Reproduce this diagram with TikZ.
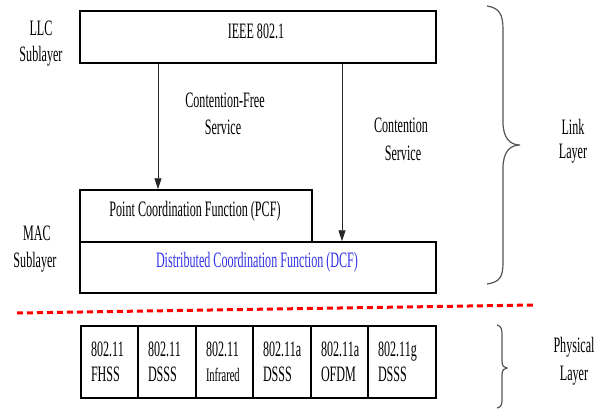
\documentclass[tikz,border=0pt]{standalone}
\usepackage{fontspec}
\setmainfont{Liberation Serif}[FakeStretch=0.55]
\usetikzlibrary{arrows.meta}
\definecolor{dcfblue}{RGB}{50,50,230}
\definecolor{bracegray}{RGB}{85,85,85}
\begin{document}
\begin{tikzpicture}[x=1pt,y=-1pt,
  every node/.style={font=\fontsize{22}{25}\selectfont},
  box/.style={draw=black,line width=1.5pt,rectangle,inner sep=0pt},
  txt/.style={inner sep=0pt,align=center},
  cell/.style={draw=black,line width=1.3pt,rectangle,minimum height=72pt,
    inner xsep=10pt,align=left},
  arr/.style={draw=black!85,line width=0.8pt,-{Triangle[width=7pt,length=11pt]}},
  bracepath/.style={draw=bracegray,line width=1.2pt},
  sep/.style={draw=red,line width=3pt,dash pattern=on 6pt off 4pt}]
\useasboundingbox (0,0) rectangle (599,410);

% MAC / LLC layer boxes
\node[box,minimum width=356pt,minimum height=52pt] (ieee) at (258,37) {};
\node[txt] (ieeet) at (256,31) {IEEE 802.1};
\node[box,minimum width=232pt,minimum height=52pt] (pcf) at (196,216) {};
\node[txt] (pcft) at (195,211) {Point Coordination Function (PCF)};
\node[box,minimum width=356pt,minimum height=51pt] (dcf) at (258,267.5) {};
\node[txt,text=dcfblue] (dcft) at (257,262) {Distributed Coordination Function (DCF)};

% side labels
\node[txt] (llc) at (41,28) {LLC};
\node[txt] (llcs) at (41,56) {Sublayer};
\node[txt] (mac) at (37,233) {MAC};
\node[txt] (macs) at (35,262) {Sublayer};
\node[txt] (cf1) at (225,100) {Contention-Free};
\node[txt] (cf2) at (223,127) {Service};
\node[txt] (cs1) at (401,125) {Contention};
\node[txt] (cs2) at (403,153) {Service};
\node[txt] (ll1) at (573,127) {Link};
\node[txt] (ll2) at (573,154) {Layer};
\node[txt] (pl1) at (574,347) {Physical};
\node[txt] (pl2) at (574,376) {Layer};

% service arrows
\coordinate (ax1) at (158,0);
\coordinate (ax2) at (342,0);
\draw[arr] (ieee.south -| ax1) -- (pcf.north -| ax1);
\draw[arr] (ieee.south -| ax2) -- (dcf.north -| ax2);

% braces
\draw[bracepath] (487,6) .. controls (500,8) and (503,15) .. (503,30) -- (503,122)
  .. controls (503,138) and (510,145) .. (520,145)
  .. controls (510,145) and (503,152) .. (503,168) -- (503,262)
  .. controls (503,277) and (500,282) .. (487,284);
\draw[bracepath] (497,325) .. controls (501,326) and (502,329) .. (502,334) -- (502,361)
  .. controls (502,366) and (504,368) .. (507,368)
  .. controls (504,368) and (502,370) .. (502,375) -- (502,400)
  .. controls (502,405) and (501,407) .. (497,408);

% layer separator
\draw[sep] (17,313) -- (533,305);

% physical layer cells
\node[cell,text width=37pt] (c1) at (109.5,362) {802.11\\FHSS};
\node[cell,text width=38pt] (c2) at (167,362) {802.11\\DSSS};
\node[cell,text width=37pt] (c3) at (224.5,362) {802.11\\{\fontsize{19}{25}\selectfont Infrared}};
\node[cell,text width=38pt] (c4) at (282,362) {802.11a\\DSSS};
\node[cell,text width=37pt] (c5) at (339.5,362) {802.11a\\OFDM};
\node[cell,text width=48pt] (c6) at (402,362) {802.11g\\DSSS};
\end{tikzpicture}
\end{document}
